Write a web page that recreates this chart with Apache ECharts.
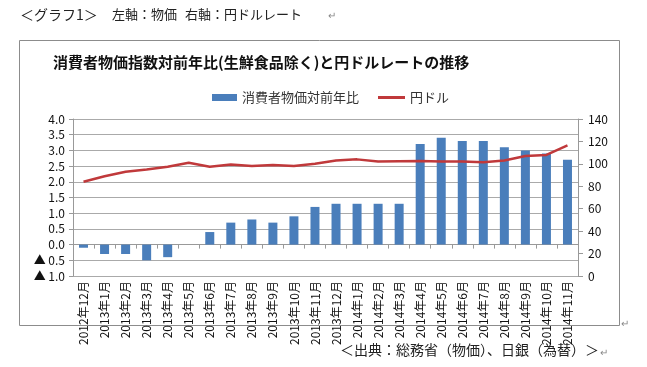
<!DOCTYPE html>
<html>
<head>
<meta charset="utf-8">
<script src="https://cdn.jsdelivr.net/npm/echarts@6/dist/echarts.min.js"></script>
<style>
html,body{margin:0;padding:0;background:#fff;}
#c{width:647px;height:367px;}
</style>
</head>
<body>
<div id="c"></div>
<script>
const categories = ['2012年12月','2013年1月','2013年2月','2013年3月','2013年4月','2013年5月','2013年6月','2013年7月','2013年8月','2013年9月','2013年10月','2013年11月','2013年12月','2014年1月','2014年2月','2014年3月','2014年4月','2014年5月','2014年6月','2014年7月','2014年8月','2014年9月','2014年10月','2014年11月'];
const cpiValues = [-0.1,-0.3,-0.3,-0.5,-0.4,0,0.4,0.7,0.8,0.7,0.9,1.2,1.3,1.3,1.3,1.3,3.2,3.4,3.3,3.3,3.1,3.0,2.9,2.7];
const usdJpyValues = [84,89,93,95,97.5,101,97.5,99.5,98,99,98,100,103,104,102,102.3,102.6,102,102,101.5,103,107,108,116.5];
const seriesNames = ['消費者物価対前年比','円ドル'];
const titleText = '消費者物価指数対前年比(生鮮食品除く)と円ドルレートの推移';
const FONT = '"Noto Sans CJK JP", "Noto Sans", sans-serif';

const chart = echarts.init(document.getElementById('c'), null, {renderer:'canvas'});
chart.setOption({
  animation:false,
  backgroundColor:'#fff',
  textStyle:{fontFamily:FONT},
  title:{
    text:titleText, left:48, top:50,
    textStyle:{fontSize:15, fontWeight:'bold', color:'#111', fontFamily:FONT}
  },
  legend:[
    {
      left:207, top:86, itemWidth:25, itemHeight:7,
      textStyle:{fontSize:13, color:'#333', fontFamily:FONT},
      data:[{name:seriesNames[0], icon:'rect'}]
    },
    {
      left:373, top:86, itemWidth:27, itemHeight:3, itemGap:0,
      textStyle:{fontSize:13, color:'#333', fontFamily:FONT},
      data:[{name:seriesNames[1], icon:'rect'}]
    }
  ],
  grid:{left:73, right:69, top:119, bottom:91, containLabel:false},
  xAxis:{
    type:'category', data:categories,
    axisLine:{onZero:true, lineStyle:{color:'#999', width:1}},
    axisTick:{show:true, length:4, lineStyle:{color:'#999'}},
    axisLabel:{rotate:90, interval:0, fontSize:12, color:'#111', margin:5, fontFamily:FONT}
  },
  yAxis:[
    {
      type:'value', min:-1, max:4, interval:0.5,
      axisLine:{show:true, lineStyle:{color:'#999'}},
      axisTick:{show:true, length:4, lineStyle:{color:'#999'}},
      splitLine:{show:true, lineStyle:{color:'#aaa', width:1}},
      axisLabel:{fontSize:12, color:'#111', margin:8, fontFamily:FONT,
        width:60, overflow:'none',
        formatter:function(v){ return v < 0 ? '▲ ' + Math.abs(v).toFixed(1) : v.toFixed(1); }}
    },
    {
      type:'value', min:0, max:140, interval:20,
      axisLine:{show:true, lineStyle:{color:'#999'}},
      axisTick:{show:true, length:5, lineStyle:{color:'#999'}},
      splitLine:{show:false},
      axisLabel:{fontSize:12, color:'#111', margin:10, fontFamily:FONT}
    }
  ],
  series:[
    {
      name:seriesNames[0], type:'bar', yAxisIndex:0, data:cpiValues,
      barWidth:9, itemStyle:{color:'#4a7ebb'}, z:2
    },
    {
      name:seriesNames[1], type:'line', yAxisIndex:1, data:usdJpyValues,
      symbol:'none', lineStyle:{color:'#c0393b', width:2.5}, itemStyle:{color:'#c0393b'}, z:3
    }
  ],
  graphic:[
    {type:'rect', shape:{x:19.5, y:40.5, width:600, height:285}, style:{fill:'none', stroke:'#8c8c8c', lineWidth:1}, silent:true, z:-1},
    {type:'text', left:20, top:8, style:{text:'＜グラフ1＞', fontSize:14, fill:'#222', fontFamily:FONT}},
    {type:'text', left:112, top:8, style:{text:'左軸：物価', fontSize:13, fill:'#222', fontFamily:FONT}},
    {type:'text', left:185, top:8, style:{text:'右軸：円ドルレート', fontSize:13, fill:'#222', fontFamily:FONT}},
    {type:'text', left:328, top:10, style:{text:'↵', fontSize:10, fill:'#888', fontFamily:FONT}},
    {type:'text', left:340, top:343, style:{text:'＜出典：総務省（物価）、日銀（為替）＞', fontSize:14, fill:'#222', fontFamily:FONT}},
    {type:'text', left:600, top:347, style:{text:'↵', fontSize:10, fill:'#888', fontFamily:FONT}},
    {type:'text', left:621, top:318, style:{text:'↵', fontSize:10, fill:'#888', fontFamily:FONT}}
  ]
});
</script>
</body>
</html>
